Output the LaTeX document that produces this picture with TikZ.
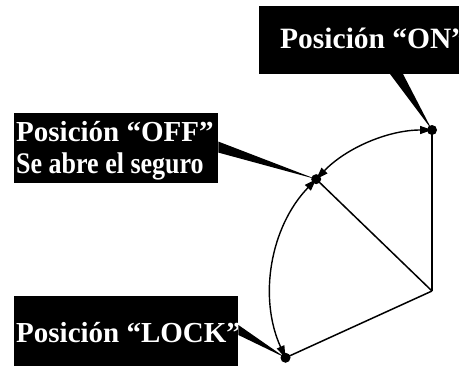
\documentclass[tikz,border=0pt]{standalone}
\usepackage{fontspec}
\setmainfont{Liberation Serif}
\usetikzlibrary{arrows.meta,calc}
\tikzset{
  blackbox/.style={fill=black, draw=none, inner sep=0pt, anchor=south west},
  lbl/.style={text=white, inner sep=0pt, anchor=base west, font=\bfseries\fontsize{29bp}{32bp}\selectfont},
  lblsmall/.style={lbl, font=\bfseries\fontsize{26bp}{30bp}\selectfont},
  arm/.style={line width=1.5bp, black},
  swing/.style={line width=1.4bp, black, {Triangle[length=12bp,width=8bp]}-{Triangle[length=12bp,width=8bp]}},
  pointer/.style={fill=black, draw=none},
  dotmark/.style={fill=black}
}
\begin{document}
\begin{tikzpicture}[x=1bp,y=1bp]
\useasboundingbox (0,0) rectangle (459,367);
\clip (0,0) rectangle (459,367);
% pivot and positions
\coordinate (P) at (432,76);
\coordinate (ON) at ($(P)+(90:161)$);
\coordinate (OFF) at ($(P)+(136:161)$);
\coordinate (LOCK) at ($(P)+(204.5:161)$);
% arms
\draw[arm] (P) -- (ON);
\draw[arm] (P) -- (OFF);
\draw[arm] (P) -- (LOCK);
% swings
\draw[swing] (ON) arc[start angle=90, end angle=136, radius=161];
\draw[swing] (OFF) arc[start angle=136, end angle=204.5, radius=161];
% boxes
\node[blackbox, minimum width=215bp, minimum height=68bp] (onbox) at (259,293) {};
\node[lbl, font=\bfseries\fontsize{29.5bp}{32bp}\selectfont] (ontext) at (280,319) {Posición “ON”};
\node[blackbox, minimum width=204bp, minimum height=70bp] (offbox) at (14,184) {};
\node[lbl] (offtext) at (16,226) {Posición “OFF”};
\node[lblsmall] (offtext2) at (16,194) {\scalebox{1}[1.15]{Se abre el seguro}};
\node[blackbox, minimum width=224bp, minimum height=70bp] (lockbox) at (14,1) {};
\node[lbl] (locktext) at (16,25) {Posición “LOCK”};
% pointers
\fill[pointer] ([xshift=131bp]onbox.south west) -- ([xshift=144bp]onbox.south west) -- (ON) -- cycle;
\fill[pointer] ([yshift=-29bp]offbox.north east) -- ([yshift=-40bp]offbox.north east) -- (OFF) -- cycle;
\fill[pointer] ([yshift=41bp]lockbox.south east) -- ([yshift=31bp]lockbox.south east) -- (LOCK) -- cycle;
% dots
\fill[dotmark] (ON) circle (5bp);
\fill[dotmark] (OFF) circle (5bp);
\fill[dotmark] (LOCK) circle (5bp);
\end{tikzpicture}
\end{document}
